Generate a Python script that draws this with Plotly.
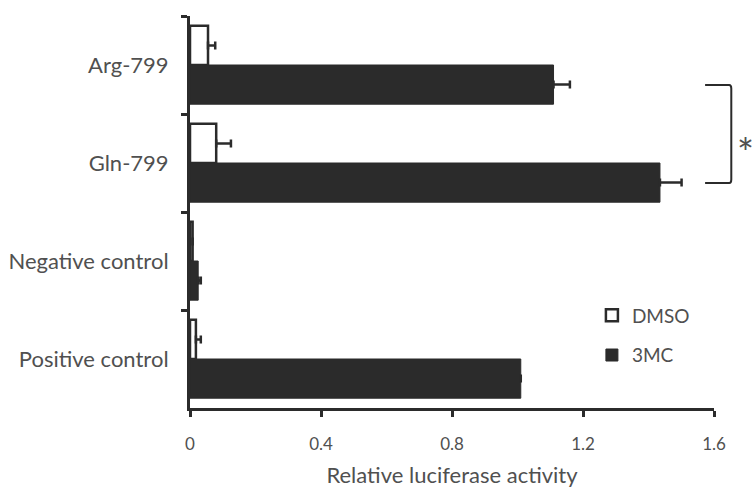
import plotly.graph_objects as go

categories = ["Arg-799", "Gln-799", "Negative control", "Positive control"]
dmso_vals = [0.055, 0.08, 0.008, 0.018]
dmso_err = [0.022, 0.045, 0.0, 0.015]
mc_vals = [1.11, 1.435, 0.025, 1.01]
mc_err = [0.05, 0.066, 0.008, 0.0]
xticks = [0, 0.4, 0.8, 1.2, 1.6]
xticklabels = ["0", "0.4", "0.8", "1.2", "1.6"]

DARK = "#2b2b2b"
GREY = "#505050"
FONT = "Lato"

fig = go.Figure()
fig.add_trace(go.Bar(
    y=categories, x=dmso_vals, orientation="h", name="DMSO", legendgroup="a",
    marker=dict(color="white", line=dict(color=DARK, width=2.5)),
    error_x=dict(type="data", array=dmso_err, arrayminus=[0]*4, symmetric=False,
                 color=DARK, thickness=2.5, width=4),
))
fig.add_trace(go.Bar(
    y=categories, x=mc_vals, orientation="h", name="3MC", legendgroup="b",
    marker=dict(color=DARK, line=dict(color=DARK, width=1)),
    error_x=dict(type="data", array=mc_err, arrayminus=[0]*4, symmetric=False,
                 color=DARK, thickness=2.5, width=4),
))

fig.update_layout(
    width=755, height=488,
    margin=dict(l=190, r=41, t=16, b=80),
    paper_bgcolor="white", plot_bgcolor="white",
    barmode="group", bargap=0.2, bargroupgap=0,
    font=dict(family=FONT, color=GREY),
    showlegend=True,
    legend=dict(x=0.767, y=0.185, xanchor="left", yanchor="middle",
                font=dict(size=19, family=FONT, color=GREY),
                tracegroupgap=12, traceorder="grouped", bgcolor="rgba(0,0,0,0)",
                itemwidth=30),
    xaxis=dict(range=[0, 1.6], tickvals=xticks, ticktext=xticklabels, automargin=False,
               showgrid=False, zeroline=False, showline=True, linecolor=DARK, linewidth=3,
               ticks="outside", ticklen=6, tickwidth=3, tickcolor=DARK,
               tickfont=dict(size=17, color=GREY), ticklabelstandoff=13,
               title=dict(text="Relative luciferase activity", font=dict(size=22, color=GREY), standoff=19)),
    yaxis=dict(range=[3.5, -0.5], type="category", tickson="boundaries", automargin=False,
               showgrid=False, zeroline=False, showline=True, linecolor=DARK, linewidth=3,
               ticks="outside", ticklen=6, tickwidth=3, tickcolor=DARK,
               tickfont=dict(size=22, color=GREY), ticklabelstandoff=14),
)

# significance bracket between Arg-799 and Gln-799 (3MC)
fig.add_shape(type="path", xref="paper", yref="paper",
              path="M 0.983 0.824 L 1.029 0.824 Q 1.033 0.824 1.033 0.815 L 1.033 0.583 Q 1.033 0.574 1.029 0.574 L 0.983 0.574",
              line=dict(color=DARK, width=2))
fig.add_annotation(x=1.081, y=0.716, xref="paper", yref="paper", text="*",
                   showarrow=False, font=dict(size=40, color=GREY, family=FONT))

fig.write_html("out.html")
